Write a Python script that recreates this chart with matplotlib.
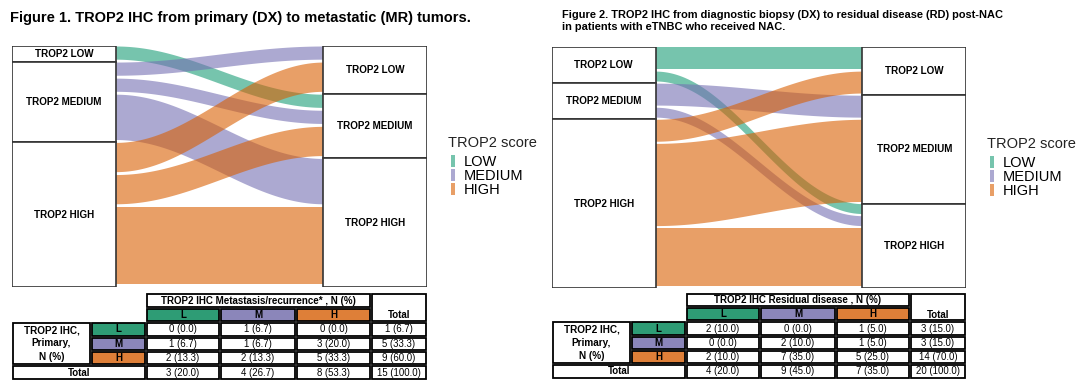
import matplotlib
matplotlib.use('Agg')
import matplotlib.pyplot as plt
from matplotlib.patches import Rectangle, Patch
import numpy as np

plt.rcParams['font.family'] = ['Liberation Sans', 'DejaVu Sans']

# ---- data ----
levels = ['LOW', 'MEDIUM', 'HIGH']
short_levels = ['L', 'M', 'H']
box_labels = ['TROP2 LOW', 'TROP2 MEDIUM', 'TROP2 HIGH']

# rows = primary / diagnostic biopsy, cols = metastasis or residual disease
fig1_counts = np.array([[0, 1, 0],
                        [1, 1, 3],
                        [2, 2, 5]])
fig2_counts = np.array([[2, 0, 1],
                        [0, 2, 1],
                        [2, 7, 5]])

fig1_title = 'Figure 1. TROP2 IHC from primary (DX) to metastatic (MR) tumors.'
fig2_title = ('Figure 2. TROP2 IHC from diagnostic biopsy (DX) to residual disease (RD) post-NAC\n'
              'in patients with eTNBC who received NAC.')
fig1_table_head = 'TROP2 IHC Metastasis/recurrence* , N (%)'
fig2_table_head = 'TROP2 IHC Residual disease , N (%)'

flow_colors = ['#1b9e77', '#7570b3', '#d95f02']
table_colors = ['#2e9c75', '#8b86ba', '#de7f38']

W, H = 1080, 392
fig = plt.figure(figsize=(W / 100, H / 100), dpi=100)


def px_axes(x0, y0, x1, y1):
    return fig.add_axes([x0 / W, 1 - y1 / H, (x1 - x0) / W, (y1 - y0) / H])


def draw_alluvial(ax, counts):
    n = counts.sum()
    src_tot = counts.sum(axis=1)
    tgt_tot = counts.sum(axis=0)
    src_off = np.concatenate([[0], np.cumsum(src_tot)[:-1]])
    tgt_off = np.concatenate([[0], np.cumsum(tgt_tot)[:-1]])
    t = np.linspace(0, 1, 200)
    s = (1 - np.cos(np.pi * t)) / 2
    x = 1 + 2 * t
    gap = 0.18
    for i in range(3):
        for j in range(3):
            c = counts[i, j]
            if c == 0:
                continue
            y0 = src_off[i] + counts[i, :j].sum()
            y1 = tgt_off[j] + counts[:i, j].sum()
            top = y0 + (y1 - y0) * s
            ax.fill_between(x, top, top + c - gap, color=flow_colors[i],
                            alpha=0.6, lw=0, zorder=1)
    for off, tot, xs in [(src_off, src_tot, 0), (tgt_off, tgt_tot, 3)]:
        for k in range(3):
            ax.add_patch(Rectangle((xs, off[k]), 1, tot[k], fc='white',
                                   ec='#333333', lw=1.2, zorder=3))
            ax.text(xs + 0.5, off[k] + tot[k] / 2, box_labels[k], ha='center',
                    va='center', fontsize=7.1, fontweight='bold', zorder=4)
    ax.set_xlim(0, 4)
    ax.set_ylim(n, 0)
    ax.axis('off')


def draw_legend(ax, x, y):
    ax.text(x, y, 'TROP2 score', fontsize=10.5, va='center', ha='left', color='#222222')
    handles = [Patch(facecolor=c, alpha=0.6, lw=0) for c in flow_colors]
    fig.legend(handles, levels, loc='upper left',
               bbox_to_anchor=((x + 3) / W, 1 - (y + 12) / H), frameon=False,
               fontsize=10.5, handlelength=0.3, handleheight=0.85,
               labelspacing=0.0, handletextpad=0.55,
               borderpad=0, borderaxespad=0)


def cell(ax, x0, y0, x1, y1, fc='white', text=None, bold=False, ty=None):
    ax.add_patch(Rectangle((x0 + 0.8, y0 + 0.8), x1 - x0 - 1.6, y1 - y0 - 1.6,
                           fc=fc, ec='black', lw=1.3))
    if text is not None:
        ax.text((x0 + x1) / 2, (y0 + y1) / 2 if ty is None else ty, text,
                ha='center', va='center', fontsize=7.0 if bold else 6.9,
                fontweight='bold' if bold else 'normal')


def draw_table(ax, counts, head, xs, ys):
    n = counts.sum()

    def fmt(v):
        return f'{v} ({100 * v / n:.1f})'

    cell(ax, xs[2], ys[0], xs[5], ys[1], text=head, bold=True)
    cell(ax, xs[5], ys[0], xs[6], ys[2], text='Total', bold=True, ty=ys[2] - 6.5)
    for j in range(3):
        cell(ax, xs[2 + j], ys[1], xs[3 + j], ys[2], fc=table_colors[j],
             text=short_levels[j], bold=True)
    cell(ax, xs[0], ys[2], xs[1], ys[5])
    ax.text((xs[0] + xs[1]) / 2, (ys[2] + ys[5]) / 2, 'TROP2 IHC,\nPrimary,\nN (%)',
            ha='center', va='center', fontsize=7.2, fontweight='bold', linespacing=1.4)
    for i in range(3):
        cell(ax, xs[1], ys[2 + i], xs[2], ys[3 + i], fc=table_colors[i],
             text=short_levels[i], bold=True)
        for j in range(3):
            cell(ax, xs[2 + j], ys[2 + i], xs[3 + j], ys[3 + i], text=fmt(counts[i, j]))
        cell(ax, xs[5], ys[2 + i], xs[6], ys[3 + i], text=fmt(counts[i].sum()))
    cell(ax, xs[0], ys[5], xs[2], ys[6], text='Total', bold=True)
    for j in range(3):
        cell(ax, xs[2 + j], ys[5], xs[3 + j], ys[6], text=fmt(counts[:, j].sum()))
    cell(ax, xs[5], ys[5], xs[6], ys[6], text=fmt(n))


# overlay for titles and tables (pixel coordinates)
ov = fig.add_axes([0, 0, 1, 1])
ov.set_xlim(0, W)
ov.set_ylim(H, 0)
ov.axis('off')
ov.patch.set_visible(False)

ov.text(10, 18, fig1_title, fontsize=10.5, fontweight='bold', va='center', ha='left')
ov.text(562, 21, fig2_title, fontsize=7.9, fontweight='bold', va='center', ha='left',
        linespacing=1.3)

ax1 = px_axes(12, 46, 427, 287)
draw_alluvial(ax1, fig1_counts)
ax2 = px_axes(552, 47, 966, 288)
draw_alluvial(ax2, fig2_counts)

draw_legend(ov, 448, 143)
draw_legend(ov, 987, 144)

draw_table(ov, fig1_counts, fig1_table_head,
           [12, 91, 146, 220, 296, 371, 427], [293, 308, 322, 337, 351, 365, 380])
draw_table(ov, fig2_counts, fig2_table_head,
           [552, 631, 686, 760, 836, 910, 966], [293, 307, 321, 336, 350, 364, 379])

fig.savefig('out.png', dpi=100, facecolor='white')
